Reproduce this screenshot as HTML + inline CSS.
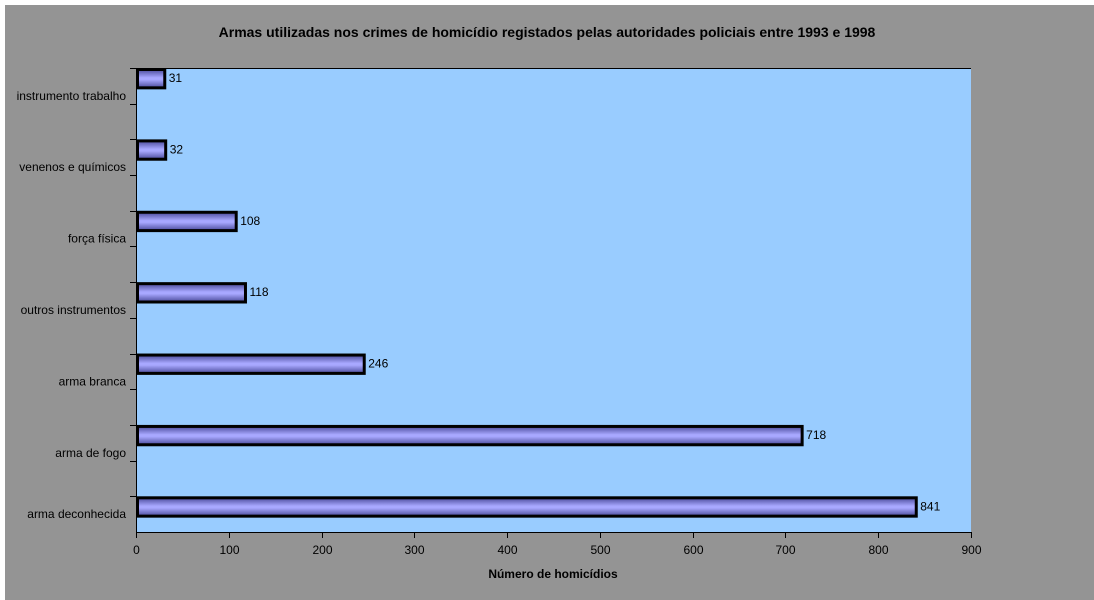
<!DOCTYPE html>
<html><head><meta charset="utf-8">
<style>
body{margin:0;background:#fff;}
svg{display:block;font-family:"Liberation Sans",Arial,sans-serif;}
</style></head>
<body>
<svg width="1094" height="600">
<defs>
<linearGradient id="bg" x1="0" y1="0" x2="0" y2="1">
<stop offset="0" stop-color="#4a4a9a"/>
<stop offset="0.45" stop-color="#a8a8ff"/>
<stop offset="0.55" stop-color="#a8a8ff"/>
<stop offset="1" stop-color="#4a4a9a"/>
</linearGradient>
</defs>
<rect x="0" y="0" width="1094" height="600" fill="#fff"/>
<rect x="5" y="5" width="1089" height="595" fill="#949494"/>
<text x="547" y="37" text-anchor="middle" font-size="14" font-weight="bold">Armas utilizadas nos crimes de homicídio registados pelas autoridades policiais entre 1993 e 1998</text>
<rect x="136" y="68" width="835" height="464" fill="#99ccff"/>
<line x1="136" y1="68.5" x2="971" y2="68.5" stroke="#000"/>
<g id="bars"></g>
<g id="axes"></g>
<text x="553" y="578" text-anchor="middle" font-size="12" font-weight="bold">Número de homicídios</text>
</svg>
<script>
const categories = ["instrumento trabalho","venenos e químicos","força física","outros instrumentos","arma branca","arma de fogo","arma deconhecida"];
const values = [31,32,108,118,246,718,841];
const xTicks = [0,100,200,300,400,500,600,700,800,900];
const NS="http://www.w3.org/2000/svg";
const L=136,R=971,T=68,B=532,xMax=900;
const slot=(B-T)/13;
function xs(v){return L+v/xMax*(R-L);}
function mk(t,a,p){const e=document.createElementNS(NS,t);for(const k in a)e.setAttribute(k,a[k]);p.appendChild(e);return e;}
const bars=document.getElementById('bars'), axes=document.getElementById('axes');
categories.forEach((c,i)=>{
  const y0=T+slot*2*i;
  const r=mk('rect',{x:L+1.5,y:y0+1.5,width:xs(values[i])-L-1.5,height:slot/2+0.5,fill:'url(#bg)',stroke:'#000','stroke-width':3},bars);
  
  
  const v=mk('text',{x:xs(values[i])+4,y:y0+14,'font-size':12},bars);
  v.textContent=values[i];
  
  
  const lb=mk('text',{x:126,y:y0+slot*2-slot+4,'text-anchor':'end','font-size':12},axes);
  lb.setAttribute('y', (i===categories.length-1? B-slot/2+4 : y0+slot/2+ (slot*0)+ 14));
  lb.textContent=c;
  
  
});
for(let k=0;k<=12;k++){const y=Math.round(T+slot*k)+0.5;mk('line',{x1:130,y1:y,x2:136,y2:y,stroke:'#000'},axes);}
mk('line',{x1:136.5,y1:T,x2:136.5,y2:B,stroke:'#000'},axes);
mk('line',{x1:136,y1:B+0.5,x2:R,y2:B+0.5,stroke:'#000'},axes);
xTicks.forEach(t=>{
  const x=Math.round(xs(t))+0.5;
  mk('line',{x1:x,y1:B,x2:x,y2:B+6,stroke:'#000'},axes);
  const tx=mk('text',{x:x,y:B+22,'text-anchor':'middle','font-size':12},axes);
  tx.textContent=t;
  
  
});
</script>
</body></html>
